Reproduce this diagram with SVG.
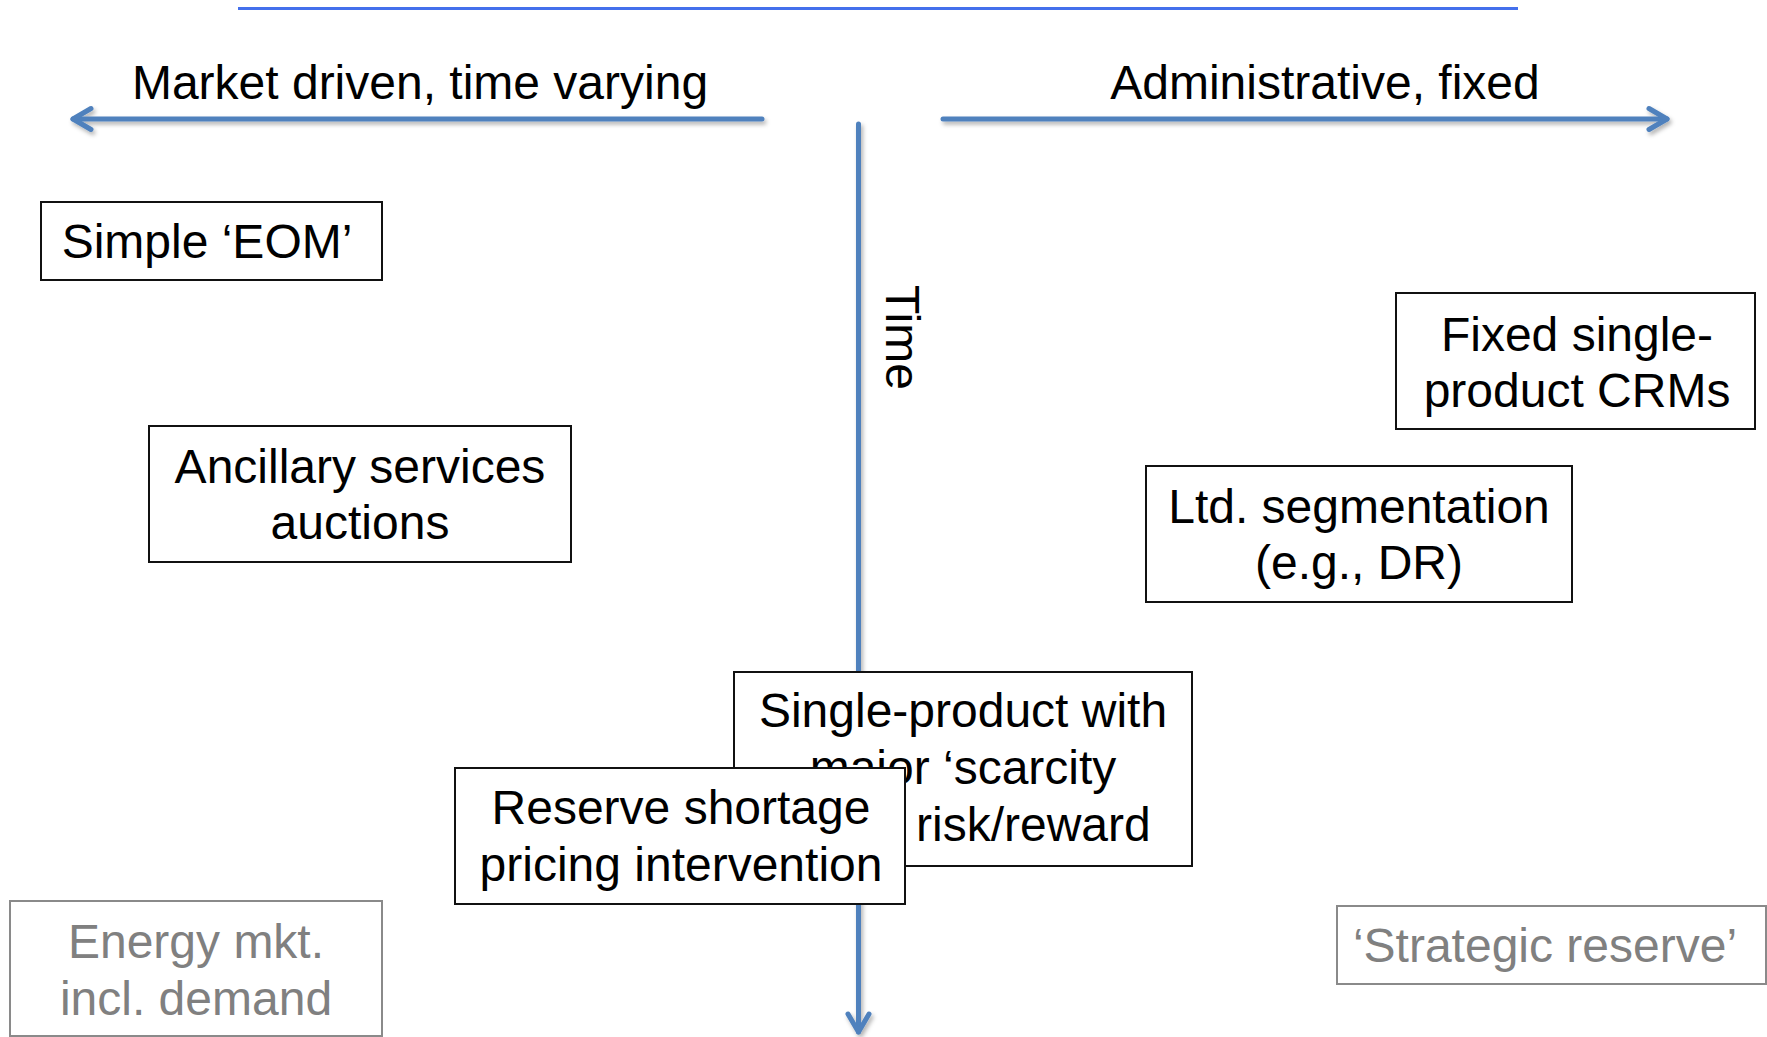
<svg xmlns="http://www.w3.org/2000/svg" width="1767" height="1037" viewBox="0 0 1767 1037">
  <style>
    .lbl { font-family: "Liberation Sans", Arial, sans-serif; font-size: 48px; fill: #000; text-anchor: middle; }
    .lbl.muted { fill: #808080; }
    .box { fill: #fff; stroke: #111; stroke-width: 2; }
    .box.muted { stroke: #8a8a8a; }
    .axis { stroke: #4f81bd; stroke-width: 5; stroke-linecap: round; fill: none; }
  </style>
  <defs>
    <filter id="soft" filterUnits="userSpaceOnUse" x="0" y="0" width="1767" height="1037">
      <feDropShadow dx="2" dy="3" stdDeviation="2" flood-color="#000" flood-opacity="0.3"/>
    </filter>
    <marker id="chevron" markerUnits="userSpaceOnUse" markerWidth="40" markerHeight="40" viewBox="-30 -20 40 40" refX="0" refY="0" orient="auto" overflow="visible">
      <path d="M -18 -10.5 L 0 0 L -18 10.5" fill="none" stroke="#4f81bd" stroke-width="5" stroke-linecap="round" stroke-linejoin="round"/>
    </marker>
  </defs>
  <rect width="1767" height="1037" fill="#fff"/>

  <!-- header rule -->
  <g id="header-rule">
    <line x1="238" y1="8.5" x2="1518" y2="8.5" stroke="#4470ec" stroke-width="3"/>
  </g>

  <!-- axes -->
  <g id="connectors" filter="url(#soft)">
    <line class="axis" x1="762" y1="119" x2="73" y2="119" marker-end="url(#chevron)"/>
    <line class="axis" x1="943" y1="119" x2="1667" y2="119" marker-end="url(#chevron)"/>
    <line class="axis" x1="858.5" y1="124" x2="858.5" y2="1032" marker-end="url(#chevron)"/>
  </g>

  <!-- axis labels -->
  <g id="axis-labels">
    <text class="lbl" x="420" y="99">Market driven, time varying</text>
    <text class="lbl" x="1325" y="99">Administrative, fixed</text>
    <text class="lbl" transform="translate(886,285) rotate(90)" style="text-anchor:start">Time</text>
  </g>

  <g id="simple-eom">
    <rect class="box" x="41" y="202" width="341" height="78"/>
    <text class="lbl" x="207" y="258">Simple ‘EOM’</text>
  </g>

  <g id="ancillary-services">
    <rect class="box" x="149" y="426" width="422" height="136"/>
    <text class="lbl" x="360" y="483">Ancillary services</text>
    <text class="lbl" x="360" y="539">auctions</text>
  </g>

  <g id="fixed-crms">
    <rect class="box" x="1396" y="293" width="359" height="136"/>
    <text class="lbl" x="1577" y="351">Fixed single-</text>
    <text class="lbl" x="1577" y="407">product CRMs</text>
  </g>

  <g id="ltd-segmentation">
    <rect class="box" x="1146" y="466" width="426" height="136"/>
    <text class="lbl" x="1359" y="523">Ltd. segmentation</text>
    <text class="lbl" x="1359" y="579">(e.g., DR)</text>
  </g>

  <g id="single-product">
    <rect class="box" x="734" y="672" width="458" height="194"/>
    <text class="lbl" x="963" y="727">Single-product with</text>
    <text class="lbl" x="963" y="784">major ‘scarcity</text>
    <text class="lbl" x="916" y="841" style="text-anchor:start">risk/reward</text>
  </g>

  <g id="reserve-shortage">
    <rect class="box" x="455" y="768" width="450" height="136"/>
    <text class="lbl" x="681" y="824">Reserve shortage</text>
    <text class="lbl" x="681" y="881">pricing intervention</text>
  </g>

  <g id="energy-market">
    <rect class="box muted" x="10" y="901" width="372" height="135"/>
    <text class="lbl muted" x="196" y="958">Energy mkt.</text>
    <text class="lbl muted" x="196" y="1015">incl. demand</text>
  </g>

  <g id="strategic-reserve">
    <rect class="box muted" x="1337" y="906" width="429" height="78"/>
    <text class="lbl muted" x="1545" y="962">‘Strategic reserve’</text>
  </g>
</svg>
